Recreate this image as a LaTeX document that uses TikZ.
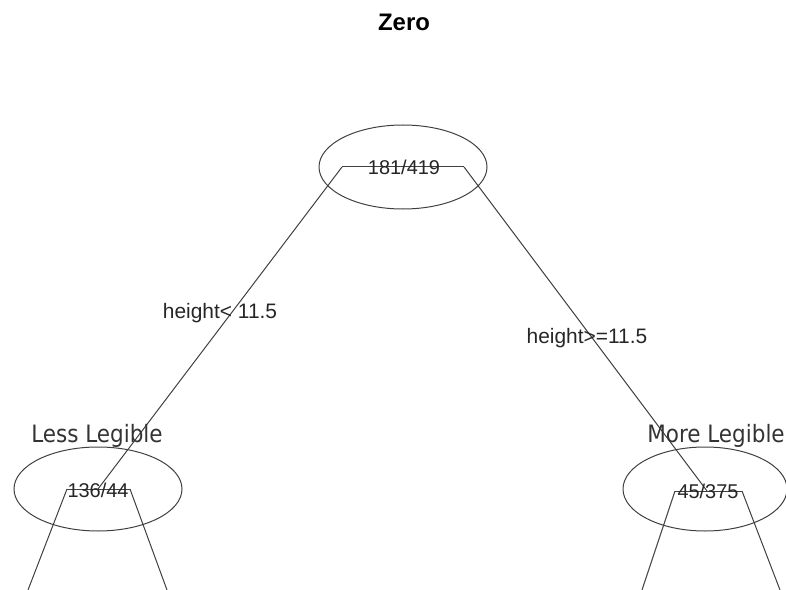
\documentclass[tikz,border=0pt]{standalone}
\usepackage{fontspec}
\setmainfont{Liberation Sans}
\newfontfamily\labfont{DejaVu Sans Condensed}
\usetikzlibrary{shapes.geometric}
\begin{document}
\begin{tikzpicture}[x=1bp,y=-1bp,
  edge/.style={draw=black!75,line width=1bp},
  oval/.style={ellipse,draw=black!75,line width=1bp,minimum width=168bp,minimum height=84bp,inner sep=0pt},
  cnt/.style={font=\fontsize{20}{22}\selectfont,text=black!85},
  split/.style={font=\fontsize{21}{23}\selectfont,text=black!85},
  cls/.style={font=\labfont\fontsize{24}{26}\selectfont,text=black!80}]
\useasboundingbox (0,0) rectangle (786,590);
\node[font=\bfseries\fontsize{24}{26}\selectfont] (title) at (404,22) {Zero};
% nodes
\node[oval] (root) at (403,167) {};
\node[oval] (L) at (98,489) {};
\node[oval,minimum width=164bp] (R) at (705,489) {};
% bar coordinates
\coordinate (rl) at (342,167);
\coordinate (rr) at (464,167);
\coordinate (Lc) at (98,489);
\coordinate (Rc) at (707,491);
\coordinate (Ll) at (67,489);
\coordinate (Lr) at (130,489);
\coordinate (Rl) at (675,491);
\coordinate (Rr) at (742,491);
\coordinate (LLb) at (28,590);
\coordinate (LRb) at (167,590);
\coordinate (RLb) at (642,590);
\coordinate (RRb) at (780,590);
% edges
\draw[edge] (rl) -- (rr);
\draw[edge] (rl) -- (Lc);
\draw[edge] (rr) -- (Rc);
\draw[edge] (Ll) -- (Lr);
\draw[edge] (Rl) -- (Rr);
\draw[edge] (Ll) -- (LLb);
\draw[edge] (Lr) -- (LRb);
\draw[edge] (Rl) -- (RLb);
\draw[edge] (Rr) -- (RRb);
% texts
\node[cnt] (rt) at (404,167) {181/419};
\node[cnt] (Lt) at (98,490) {136/44};
\node[cnt] (Rt) at (708,491) {45/375};
\node[split] (s1) at (220,313) {height< 11.5};
\node[split] (s2) at (587,338) {height>=11.5};
\node[cls] (c1) at (97,436) {Less Legible};
\node[cls] (c2) at (716,436) {More Legible};
\end{tikzpicture}
\end{document}
